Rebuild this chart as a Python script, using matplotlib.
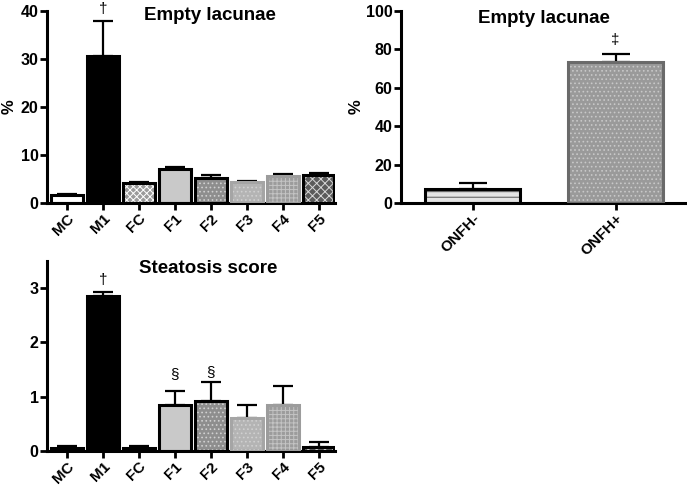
import numpy as np
import matplotlib.pyplot as plt

plt.rcParams['font.family'] = ['Liberation Sans', 'DejaVu Sans']
plt.rcParams['font.weight'] = 'bold'
plt.rcParams['hatch.linewidth'] = 0.7

groups = ['MC', 'M1', 'FC', 'F1', 'F2', 'F3', 'F4', 'F5']
lacunae_mean = [1.7, 30.6, 4.1, 7.1, 5.2, 4.3, 5.6, 5.9]
lacunae_err = [0.2, 7.4, 0.3, 0.4, 0.6, 0.3, 0.4, 0.4]
steatosis_mean = [0.05, 2.85, 0.05, 0.85, 0.92, 0.60, 0.84, 0.08]
steatosis_err = [0.05, 0.08, 0.05, 0.25, 0.36, 0.25, 0.35, 0.09]
onfh_groups = ['ONFH-', 'ONFH+']
onfh_mean = [7.5, 73.5]
onfh_err = [3.0, 4.0]

# face, hatch, hatch colour, edge
group_styles = [
    ('white', '', 'black', 'black'),
    ('black', '', 'black', 'black'),
    ('#9a9a9a', 'xxxxx', 'white', 'black'),
    ('#c9c9c9', '', 'black', 'black'),
    ('#8e8e8e', '....', '#d0d0d0', 'black'),
    ('#b4b4b4', '....', '#d0d0d0', '#a5a5a5'),
    ('#9c9c9c', '++++', '#c4c4c4', '#9c9c9c'),
    ('#5a5a5a', 'xxxx', '#d8d8d8', 'black'),
]
onfh_styles = [
    ('#e4e4e4', '---', '#555555', 'black'),
    ('#9a9a9a', '....', '#c8c8c8', '#6a6a6a'),
]


def draw_bars(ax, means, errs, styles, width, capsize):
    x = np.arange(len(means))
    for i, (face, hatch, hcol, edge) in enumerate(styles):
        ax.bar(x[i], means[i], width, color=face, hatch=hatch, edgecolor=hcol,
               linewidth=0, zorder=2)
        ax.bar(x[i], means[i], width, fill=False, edgecolor=edge,
               linewidth=2.2, zorder=3)
    ax.errorbar(x, means, yerr=[np.zeros(len(means)), errs], fmt='none',
                ecolor='black', elinewidth=1.6, capsize=capsize, capthick=1.6,
                zorder=1)
    return x


def style_axes(ax, x, labels):
    for s in ['top', 'right']:
        ax.spines[s].set_visible(False)
    for s in ['left', 'bottom']:
        ax.spines[s].set_linewidth(2.2)
    ax.tick_params(direction='out', length=5, width=2, pad=1)
    ax.tick_params(axis='y', labelsize=11.5)
    ax.set_xticks(x)
    ax.set_xticklabels(labels, rotation=45, ha='right', rotation_mode='anchor',
                       fontweight='bold', fontsize=11)
    for t in ax.get_yticklabels():
        t.set_fontweight('bold')


fig = plt.figure(figsize=(6.87, 4.86), dpi=100)

# top left
ax1 = fig.add_axes([0.0684, 0.5823, 0.419, 0.395])
x = draw_bars(ax1, lacunae_mean, lacunae_err, group_styles, 0.88, 7)
ax1.set_xlim(-0.55, 7.45)
ax1.set_ylim(0, 40)
ax1.set_yticks([0, 10, 20, 30, 40])
style_axes(ax1, x, groups)
ax1.set_ylabel('%', fontsize=12, fontweight='bold')
ax1.yaxis.set_label_coords(-0.105, 0.5)
ax1.text(0.566, 0.975, 'Empty lacunae', transform=ax1.transAxes, ha='center',
         va='center', fontsize=13.5, fontweight='bold')
ax1.text(1, 40.5, '†', ha='center', va='center', fontsize=11,
         fontweight='normal', clip_on=False)

# top right
ax2 = fig.add_axes([0.5837, 0.5823, 0.4163, 0.395])
x2 = draw_bars(ax2, onfh_mean, onfh_err, onfh_styles, 0.67, 10)
ax2.set_xlim(-0.5, 1.5)
ax2.set_ylim(0, 100)
ax2.set_yticks([0, 20, 40, 60, 80, 100])
style_axes(ax2, x2, onfh_groups)
ax2.set_ylabel('%', fontsize=12, fontweight='bold')
ax2.yaxis.set_label_coords(-0.13, 0.5)
ax2.text(0.5, 0.96, 'Empty lacunae', transform=ax2.transAxes, ha='center',
         va='center', fontsize=13.5, fontweight='bold')
ax2.text(1, 85, '‡', ha='center', va='center', fontsize=11,
         fontweight='normal')

# bottom left
ax3 = fig.add_axes([0.0684, 0.0720, 0.419, 0.391])
x3 = draw_bars(ax3, steatosis_mean, steatosis_err, group_styles, 0.88, 7)
ax3.set_xlim(-0.55, 7.45)
ax3.set_ylim(0, 3.5)
ax3.set_yticks([0, 1, 2, 3])
style_axes(ax3, x3, groups)
ax3.text(0.56, 0.96, 'Steatosis score', transform=ax3.transAxes, ha='center',
         va='center', fontsize=13.5, fontweight='bold')
ax3.text(1, 3.15, '†', ha='center', va='center', fontsize=11,
         fontweight='normal')
ax3.text(3, 1.42, '§', ha='center', va='center', fontsize=11,
         fontweight='normal')
ax3.text(4, 1.45, '§', ha='center', va='center', fontsize=11,
         fontweight='normal')

fig.savefig('out.png', dpi=100)
